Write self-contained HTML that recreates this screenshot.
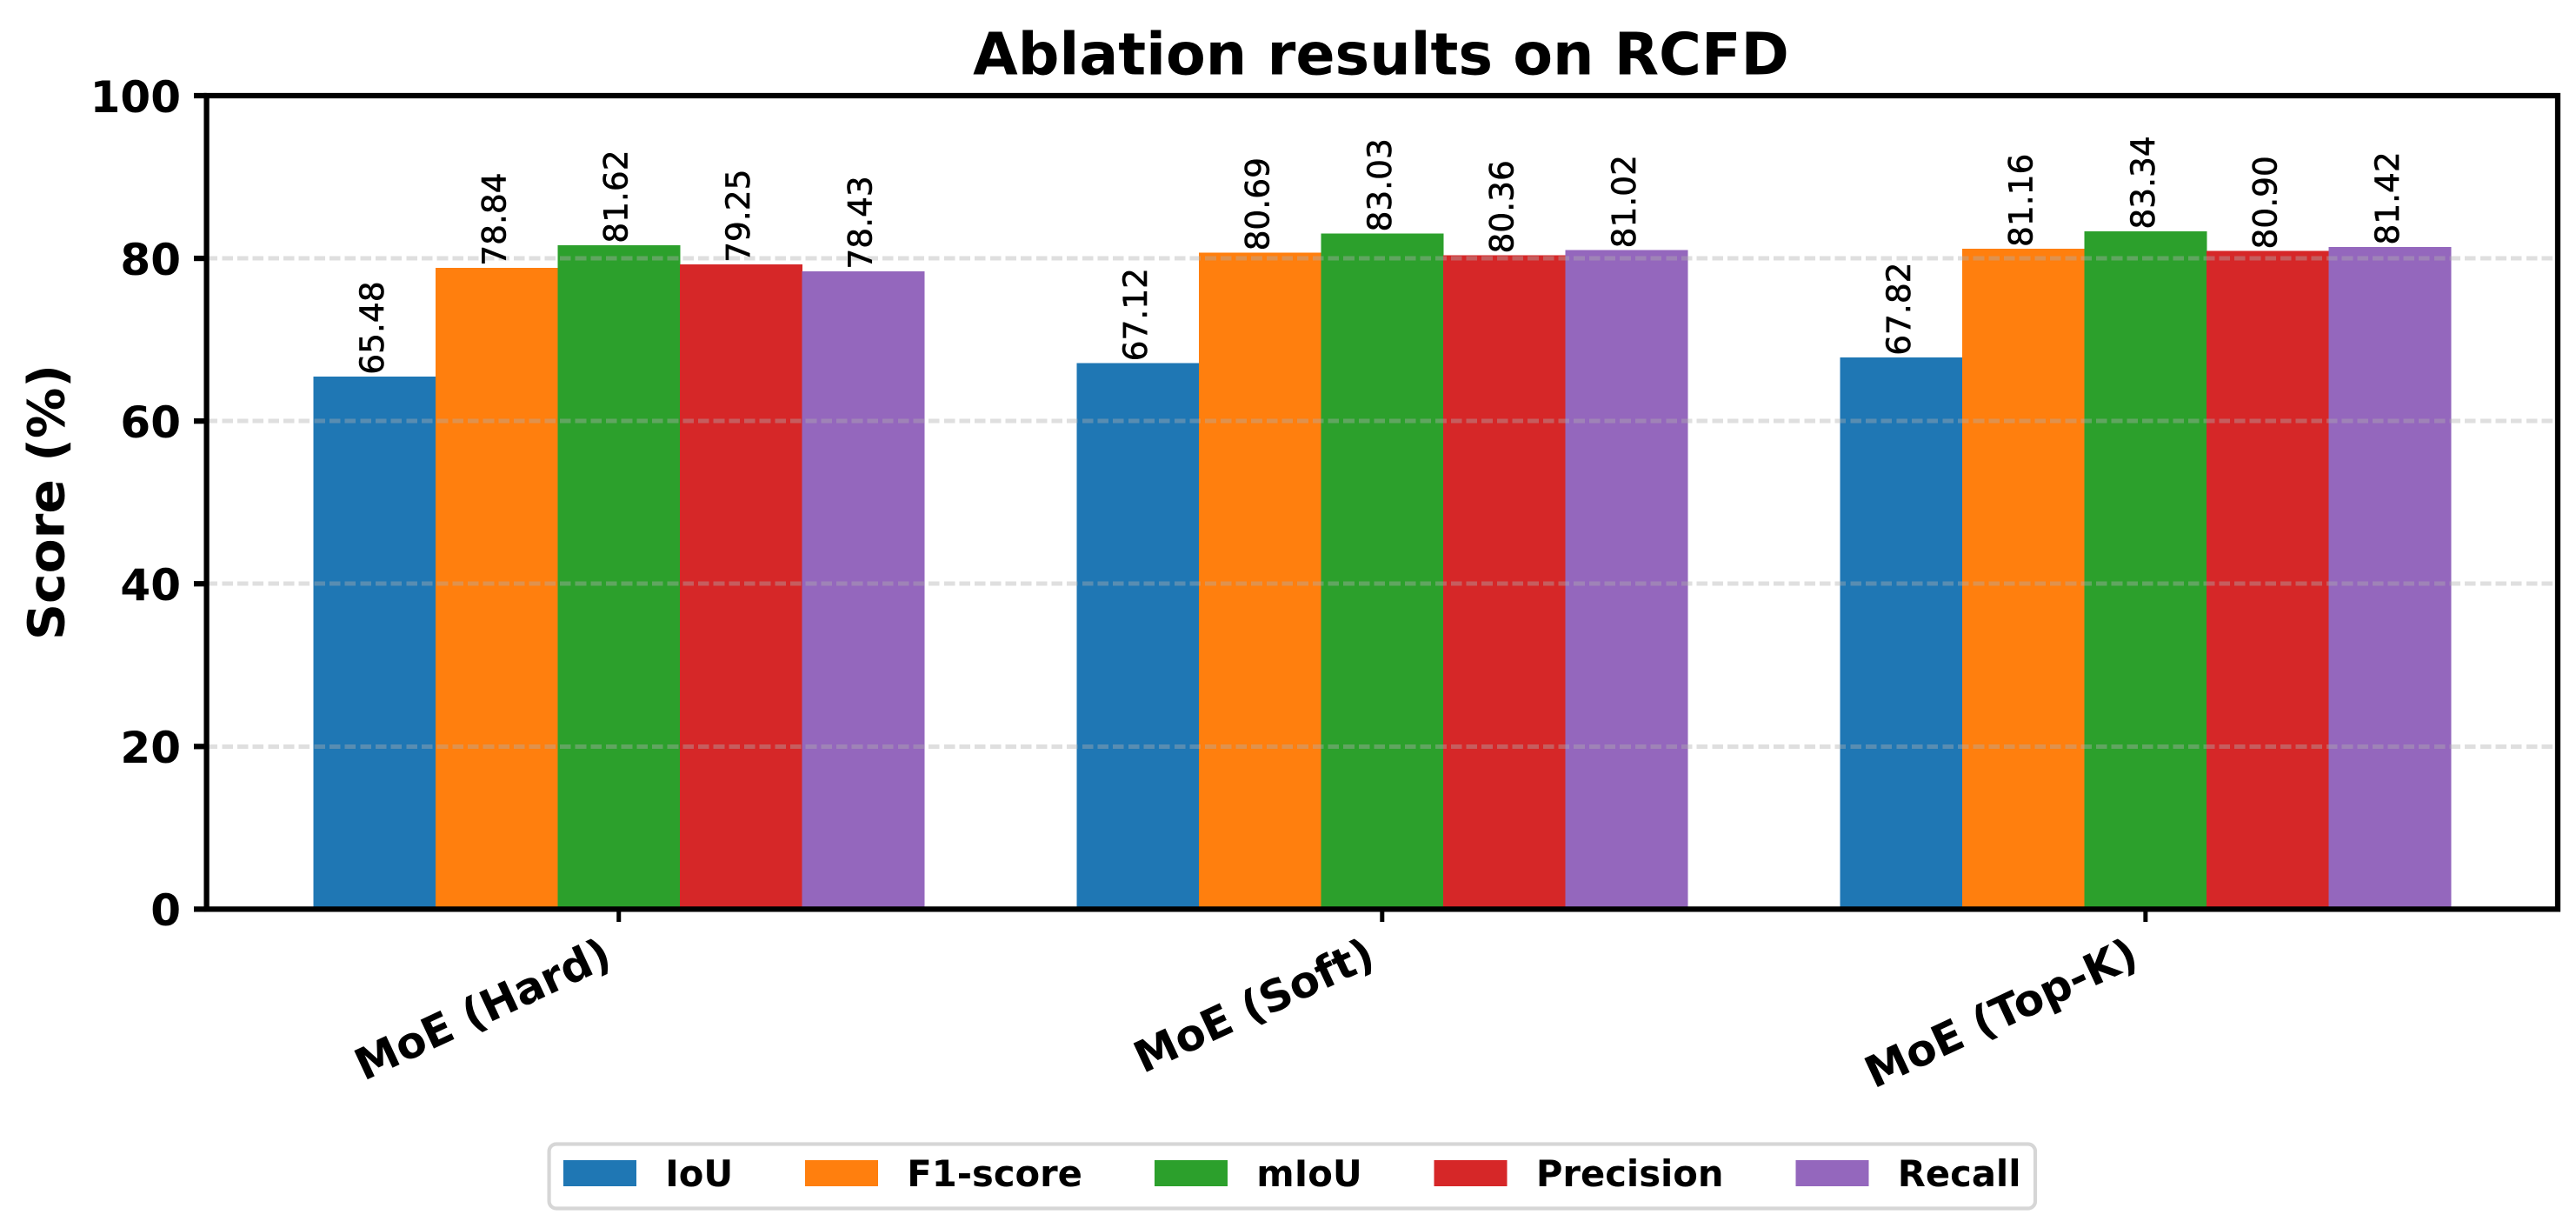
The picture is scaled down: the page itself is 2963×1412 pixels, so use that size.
<!DOCTYPE html>
<html lang="en">
<head>
<meta charset="utf-8">
<title>Ablation results on RCFD</title>
<style>
  html, body { margin: 0; padding: 0; background: #ffffff; }
  body { width: 2963px; height: 1412px; overflow: hidden; }
  svg { display: block; }
  text { font-family: "DejaVu Sans", "Liberation Sans", sans-serif; fill: #000000; }
  .bold { font-weight: 700; }
</style>
</head>
<body>
<svg id="chart" width="2963" height="1412" viewBox="0 0 2963 1412" xmlns="http://www.w3.org/2000/svg">
  <rect x="0" y="0" width="2963" height="1412" fill="#ffffff"/>
  <g id="bars"></g>
  <g id="grid"></g>
  <g id="value-labels"></g>
  <g id="y-axis"></g>
  <g id="x-axis"></g>
  <g fill="none" stroke="#000000" stroke-width="6.25">
    <rect x="237.6" y="110" width="2704.4" height="935.4" stroke-linejoin="miter"/>
  </g>
  <text class="bold" x="1588.5" y="85.5" font-size="66.67" text-anchor="middle">Ablation results on RCFD</text>
  <text class="bold" transform="translate(73.5 577.5) rotate(-90)" font-size="58.33" text-anchor="middle">Score (%)</text>
  <g id="legend">
    <rect x="631.6" y="1315.5" width="1709.4" height="74" rx="8.3" ry="8.3" fill="#ffffff" stroke="#d6d6d6" stroke-width="4.17"/>
  </g>
</svg>
<script>
const categories = ["MoE (Hard)", "MoE (Soft)", "MoE (Top-K)"];
const seriesNames = ["IoU", "F1-score", "mIoU", "Precision", "Recall"];
const iouValues = [65.48, 67.12, 67.82];
const f1Values = [78.84, 80.69, 81.16];
const miouValues = [81.62, 83.03, 83.34];
const precisionValues = [79.25, 80.36, 80.90];
const recallValues = [78.43, 81.02, 81.42];
const yTickLabels = [0, 20, 40, 60, 80, 100];

const seriesValues = [iouValues, f1Values, miouValues, precisionValues, recallValues];
const seriesColors = ["#1f77b4", "#ff7f0e", "#2ca02c", "#d62728", "#9467bd"];
const legendColumnX = [648, 926, 1328, 1649.6, 2065.5];

const NS = "http://www.w3.org/2000/svg";
const plotLeft = 237.6, plotRight = 2942, plotTop = 110, plotBottom = 1045.4;
const xMin = -0.54, xMax = 2.54, yMin = 0, yMax = 100;
const barWidth = 0.16;

function xScale(v) { return plotLeft + (v - xMin) / (xMax - xMin) * (plotRight - plotLeft); }
function yScale(v) { return plotBottom - (v - yMin) / (yMax - yMin) * (plotBottom - plotTop); }
function slug(s) { return s.toLowerCase().replace(/[^a-z0-9]+/g, "-").replace(/^-|-$/g, ""); }
function make(tag, parent, attrs) {
  const el = document.createElementNS(NS, tag);
  for (const k in attrs) el.setAttribute(k, attrs[k]);
  parent.appendChild(el);
  return el;
}

const barsLayer = document.getElementById("bars");
const gridLayer = document.getElementById("grid");
const valueLayer = document.getElementById("value-labels");
const yAxisLayer = document.getElementById("y-axis");
const xAxisLayer = document.getElementById("x-axis");
const legendLayer = document.getElementById("legend");

seriesValues.forEach(function (values, s) {
  values.forEach(function (value, c) {
    const left = xScale(c + (s - 2.5) * barWidth);
    const right = xScale(c + (s - 1.5) * barWidth);
    const bar = make("rect", barsLayer, {
      x: left, y: yScale(value), width: right - left + 0.6,
      height: plotBottom - yScale(value), fill: seriesColors[s], "shape-rendering": "crispEdges"
    });
    
    

    const cx = (left + right) / 2 + 10;
    const cy = yScale(value) - 2.2;
    const label = make("text", valueLayer, {
      transform: "translate(" + cx + " " + cy + ") rotate(-90)", "font-size": 37.5,
      stroke: "#000000", "stroke-width": 0.6
    });
    
    
    label.textContent = value.toFixed(2);
  });
});

yTickLabels.forEach(function (tick) {
  const y = yScale(tick);
  if (tick !== 0 && tick !== 100) {
    const line = make("line", gridLayer, {
      x1: plotLeft, x2: plotRight, y1: y, y2: y, stroke: "#b0b0b0", "stroke-opacity": 0.4,
      "stroke-width": 5, "stroke-dasharray": "12.6 5.07", "shape-rendering": "crispEdges"
    });
    
    
  }
  const mark = make("line", yAxisLayer, {
    x1: plotLeft - 14.6, x2: plotLeft, y1: y, y2: y, stroke: "#000000", "stroke-width": 6.25
  });
  
  
  const label = make("text", yAxisLayer, {
    x: plotLeft - 29.6, y: y + 18.8, "font-size": 50, "font-weight": 700, "text-anchor": "end"
  });
  
  
  label.textContent = String(tick);
});

categories.forEach(function (name, c) {
  const x = xScale(c);
  const mark = make("line", xAxisLayer, {
    x1: x, x2: x, y1: plotBottom, y2: plotBottom + 14.6, stroke: "#000000", "stroke-width": 5
  });
  
  
  const label = make("text", xAxisLayer, {
    transform: "translate(" + (x - 5.4) + " 1109) rotate(-25)",
    "font-size": 50, "font-weight": 700, "text-anchor": "end"
  });
  
  
  label.textContent = name;
});

seriesNames.forEach(function (name, s) {
  const swatch = make("rect", legendLayer, {
    x: legendColumnX[s], y: 1334, width: 84, height: 30, fill: seriesColors[s], "shape-rendering": "crispEdges"
  });
  
  
  const label = make("text", legendLayer, {
    x: legendColumnX[s] + 84 + 33.3, y: 1364, "font-size": 41.67, "font-weight": 700
  });
  
  
  label.textContent = name;
});
</script>
</body>
</html>
